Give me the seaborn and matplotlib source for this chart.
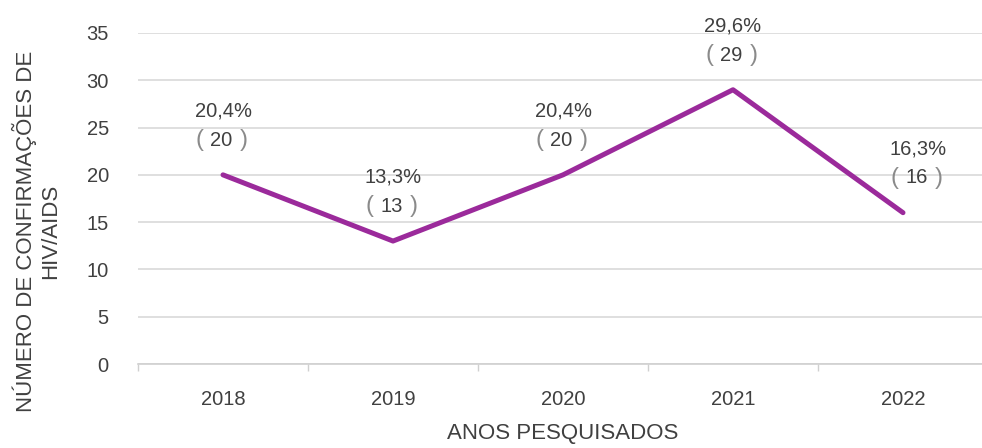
import matplotlib
matplotlib.use("Agg")
import matplotlib.pyplot as plt
import seaborn as sns
import numpy as np
import pandas as pd

# Dados do gráfico
anos = ["2018", "2019", "2020", "2021", "2022"]
casos = [20, 13, 20, 29, 16]
percentuais = ["20,4%", "13,3%", "20,4%", "29,6%", "16,3%"]

sns.set_theme(style="white")
plt.rcParams["font.family"] = ["Liberation Sans", "DejaVu Sans"]

df = pd.DataFrame({"ano": anos, "casos": casos})

fig = plt.figure(figsize=(9.82, 4.48), dpi=100)
# eixo estendido à direita (gráfico original cortado na borda)
ax = fig.add_axes([138 / 982, 1 - 364 / 448, 850 / 982, 331 / 448])

sns.lineplot(data=df, x="ano", y="casos", ax=ax, color="#9B2A9B",
             linewidth=3.6, sort=False, solid_capstyle="round")

ax.set_ylim(0, 35)
ax.set_xlim(-0.5, 4.5)
ax.set_yticks(range(0, 36, 5))
ax.yaxis.grid(True, color="#d9d9d9", linewidth=1.2)
ax.set_axisbelow(True)
for s in ["top", "right", "left"]:
    ax.spines[s].set_visible(False)
ax.spines["bottom"].set_color("#d0d0d0")
ax.spines["bottom"].set_linewidth(1.2)

# marcas entre categorias
ax.set_xticks(np.arange(-0.5, 5.0, 1.0), minor=True)
ax.tick_params(axis="x", which="minor", bottom=True, length=5, width=1, color="#d0d0d0")
ax.tick_params(axis="x", which="major", bottom=False, pad=13, labelsize=14.5, labelcolor="#404040")
ax.tick_params(axis="y", left=False, pad=15, labelsize=14.5, labelcolor="#404040")

ax.set_xlabel("ANOS PESQUISADOS", fontsize=16, color="#404040", labelpad=10)
ax.set_ylabel("NÚMERO DE CONFIRMAÇÕES DE\nHIV/AIDS", fontsize=16, color="#404040",
              linespacing=1.2)
ax.yaxis.set_label_coords(-0.09, 0.40)

# rótulos dos pontos
for i, (v, p) in enumerate(zip(casos, percentuais)):
    dx = 11 if i == 4 else 0
    ax.annotate(p, (i, v), xytext=(dx, 46), textcoords="offset points",
                ha="center", va="center", fontsize=14.5, color="#404040")
    ax.annotate(str(v), (i, v), xytext=(dx - 1, 25), textcoords="offset points",
                ha="center", va="center", fontsize=14.5, color="#404040")
    for sign, ch in [(-1, "("), (1, ")")]:
        ax.annotate(ch, (i, v), xytext=(dx - 1 + sign * 16, 25), textcoords="offset points",
                    ha="center", va="center", fontsize=17, color="#8a8a8a")

fig.savefig("out.png", dpi=100)
